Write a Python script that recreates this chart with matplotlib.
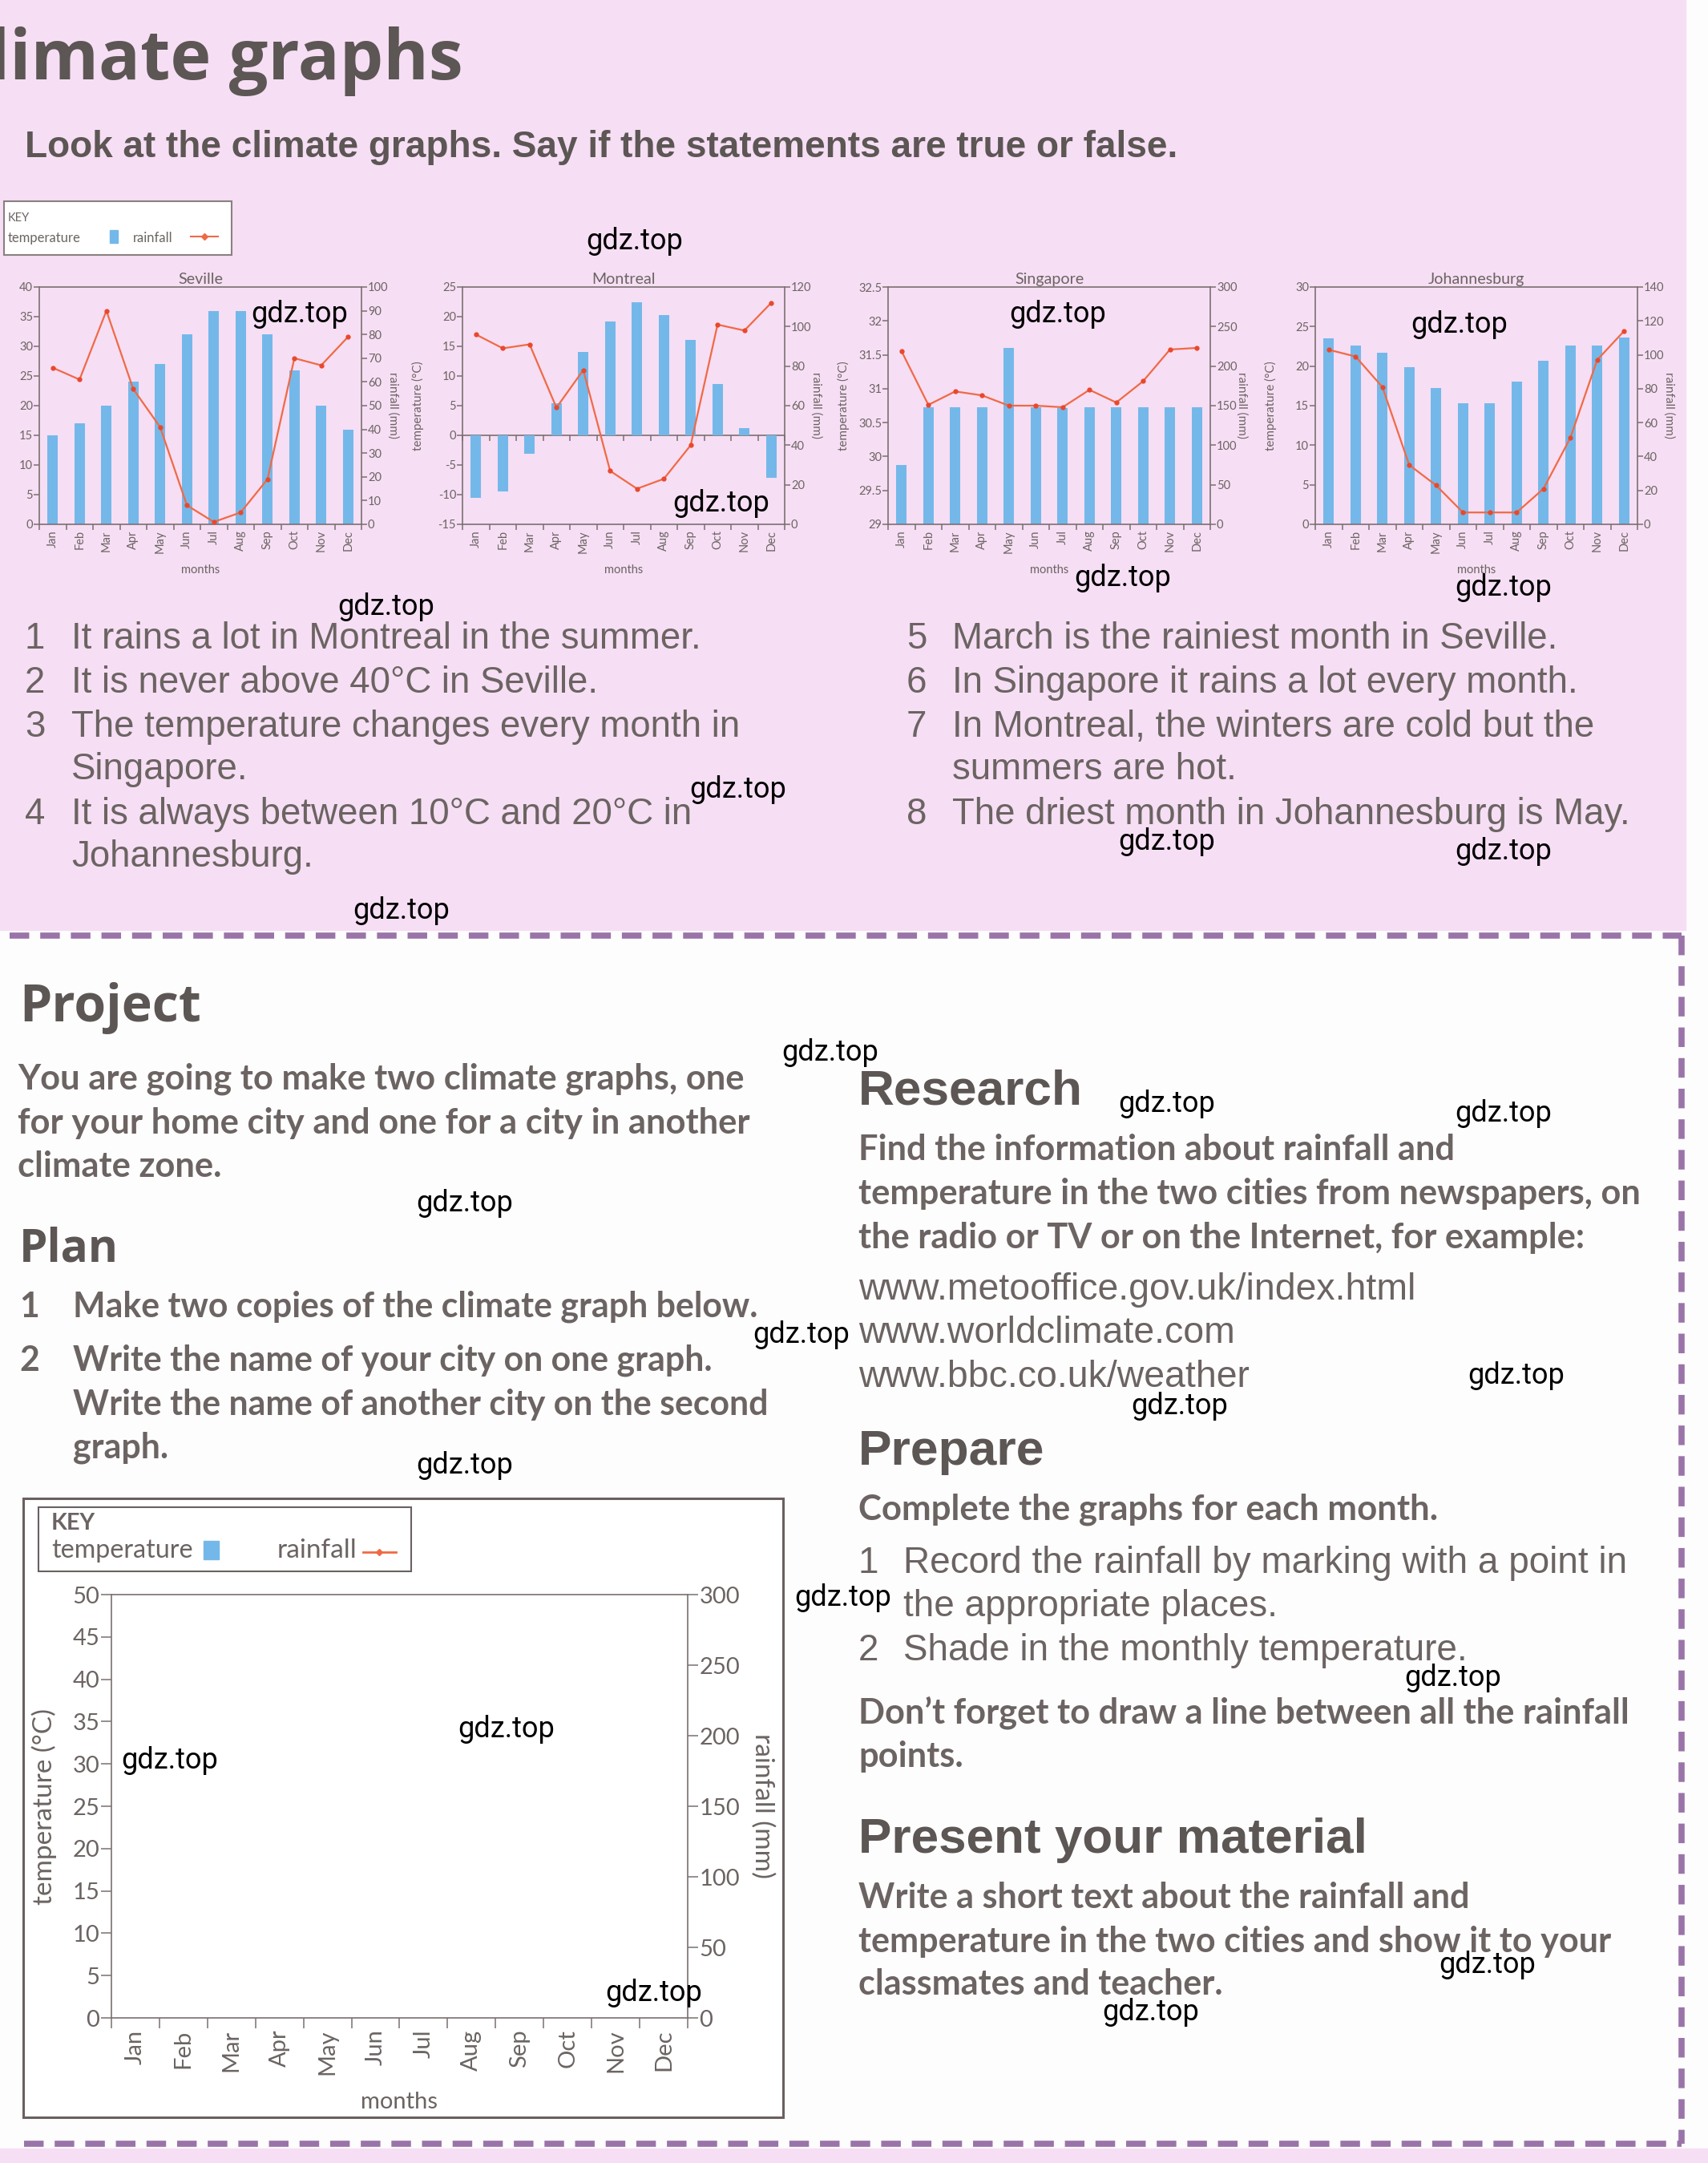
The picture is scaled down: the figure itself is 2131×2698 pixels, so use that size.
"""
Climate graphs page: four small climate charts, statements and the project block
"""
import numpy as np
import matplotlib
matplotlib.use("Agg")
import matplotlib.pyplot as plt
from matplotlib.patches import Rectangle
from matplotlib.lines import Line2D

# ---- data ----
months = ["Jan", "Feb", "Mar", "Apr", "May", "Jun", "Jul", "Aug", "Sep", "Oct", "Nov", "Dec"]

seville_temp = [15, 17, 20, 24, 27, 32, 36, 36, 32, 26, 20, 16]
seville_rain = [66, 61, 90, 57, 41, 8, 1, 5, 19, 70, 67, 79]

montreal_temp = [-10.5, -9.4, -3.1, 5.4, 14, 19.2, 22.4, 20.3, 16.1, 8.6, 1.2, -7.2]
montreal_rain = [96, 89, 91, 59, 78, 27, 18, 23, 40, 101, 98, 112]

singapore_temp = [29.87, 30.73, 30.73, 30.73, 31.6, 30.73, 30.72, 30.73, 30.73, 30.73, 30.73, 30.73]
singapore_rain = [219, 151, 168, 163, 150, 150, 148, 170, 154, 181, 221, 223]

joburg_temp = [23.5, 22.6, 21.7, 19.9, 17.2, 15.3, 15.3, 18.0, 20.7, 22.6, 22.6, 23.6]
joburg_rain = [103, 99, 81, 35, 23, 7, 7, 7, 21, 51, 97, 114]

statements_left = [("1", "It rains a lot in Montreal in the summer."),
                   ("2", "It is never above 40°C in Seville."),
                   ("3", "The temperature changes every month in"),
                   ("", "Singapore."),
                   ("4", "It is always between 10°C and 20°C in"),
                   ("", "Johannesburg.")]
statements_right = [("5", "March is the rainiest month in Seville."),
                    ("6", "In Singapore it rains a lot every month."),
                    ("7", "In Montreal, the winters are cold but the"),
                    ("", "summers are hot."),
                    ("8", "The driest month in Johannesburg is May.")]

project_text = ["You are going to make two climate graphs, one",
                "for your home city and one for a city in another",
                "climate zone."]
plan_items = [("1", "Make two copies of the climate graph below."),
              ("2", "Write the name of your city on one graph."),
              ("", "Write the name of another city on the second"),
              ("", "graph.")]
research_text = ["Find the information about rainfall and",
                 "temperature in the two cities from newspapers, on",
                 "the radio or TV or on the Internet, for example:"]
urls = ["www.metooffice.gov.uk/index.html", "www.worldclimate.com", "www.bbc.co.uk/weather"]
prepare_items = [("1", "Record the rainfall by marking with a point in"),
                 ("", "the appropriate places."),
                 ("2", "Shade in the monthly temperature.")]
reminder_text = ["Don\u2019t forget to draw a line between all the rainfall", "points."]
present_text = ["Write a short text about the rainfall and",
                "temperature in the two cities and show it to your",
                "classmates and teacher."]

watermarks = [(792, 301), (374, 392), (900, 628), (1320, 392), (1401, 721), (1821, 405),
              (1876, 733), (482, 757), (921, 985), (1456, 1050), (1876, 1062), (501, 1136),
              (1036, 1313), (1456, 1377), (1876, 1389), (580, 1501), (1000, 1665),
              (1892, 1716), (1472, 1754), (580, 1828), (1052, 1993), (1813, 2093),
              (632, 2157), (212, 2196), (816, 2486), (1856, 2451), (1436, 2510)]

# ---- styling ----
W, H = 2131, 2698
PINK = "#f6def4"
BLUE = "#74b8ea"
RED = "#f06a45"
AXIS = "#7a7070"
DARK = "#5c5654"
GREY = "#6b6462"
DASH = "#9a74a8"
CHART_FONT = "Lato"

fig = plt.figure(figsize=(W / 100, H / 100), dpi=100)
fig.patch.set_facecolor("#fefdfe")
renderer = fig.canvas.get_renderer()


def fx(x):
    return x / W


def fy(y):
    return 1 - y / H


def put(x, y, s, size=20, **kw):
    kw.setdefault("va", "center")
    return fig.text(fx(x), fy(y), s, fontsize=size, **kw)


def fit_size(s, width, **kw):
    # font size that makes s exactly `width` pixels wide
    t = fig.text(0, 0, s, fontsize=20, **kw)
    w = t.get_window_extent(renderer=renderer).width
    t.remove()
    return 20 * width / w


def fig_rect(x0, y0, x1, y1, **kw):
    # rectangle given by page pixels (top-left, bottom-right)
    r = Rectangle((fx(x0), fy(y1)), fx(x1 - x0), fy(y0) - fy(y1), transform=fig.transFigure, **kw)
    fig.add_artist(r)
    return r


# backgrounds
fig_rect(0, 0, 2103, 1160, color=PINK, zorder=-2)
fig_rect(0, 2680, W, H, color=PINK, zorder=-2)
dash_kw = dict(transform=fig.transFigure, color=DASH, lw=5.5, dashes=(3.2, 1.8), zorder=2)
fig.add_artist(Line2D([fx(12), fx(2098)], [fy(1167), fy(1167)], **dash_kw))
fig.add_artist(Line2D([fx(2098), fx(2098)], [fy(1167), fy(2674)], **dash_kw))
fig.add_artist(Line2D([fx(30), fx(2098)], [fy(2674), fy(2674)], **dash_kw))

# ---- header ----
put(578, 77, "Climate graphs", 62, ha="right", family="Open Sans", weight="bold", color=DARK)
sub = "Look at the climate graphs. Say if the statements are true or false."
put(31, 184, sub, fit_size(sub, 1437, family="Liberation Sans", weight="bold"),
    family="Liberation Sans", weight="bold", color=DARK)

# small key
fig_rect(5, 251, 289, 318, facecolor="white", edgecolor="#8a8080", lw=1.5, zorder=3)
put(10, 272, "KEY", 10.5, family=CHART_FONT, color=GREY, zorder=4)
put(10, 297, "temperature", 12, family=CHART_FONT, color=GREY, zorder=4)
fig_rect(137, 287, 147, 303, color=BLUE, zorder=4)
put(166, 297, "rainfall", 12, family=CHART_FONT, color=GREY, zorder=4)
fig.add_artist(Line2D([fx(238), fx(272)], [fy(295), fy(295)], transform=fig.transFigure,
                      color=RED, lw=1.5, zorder=4))
fig.add_artist(Line2D([fx(255)], [fy(295)], transform=fig.transFigure, color=RED,
                      marker="D", ms=4, zorder=4))


def setup_axes(left, top, width, height, tlim, tstep, rlim, rstep, size, label_size,
               title=None, show_tlabel=True, zero_line=False):
    ax = fig.add_axes([fx(left), fy(top + height), fx(width), height / H])
    ax.set_zorder(1)
    ax.patch.set_visible(False)
    x = np.arange(len(months))
    ax.set_xlim(-0.5, len(months) - 0.5)
    ax.set_ylim(*tlim)
    ax.set_yticks(np.arange(tlim[0], tlim[1] + tstep / 2, tstep))
    ax.yaxis.set_major_formatter(plt.FuncFormatter(lambda v, p: f"{v:g}"))
    ax.set_xticks(np.arange(-0.5, len(months), 1.0))
    ax.set_xticklabels([])
    ax.set_xticks(x, minor=True)
    ax.set_xticklabels(months, minor=True, rotation=90, fontsize=size, family=CHART_FONT, color=GREY)
    ax.tick_params(axis="x", which="minor", length=0, pad=size * 0.5)
    ax.tick_params(axis="x", which="major", direction="out", length=size * 0.45, color=AXIS, width=1.1)
    ax.tick_params(axis="y", direction="out", length=size * 0.45, color=AXIS, width=1.1,
                   labelsize=size, labelcolor=GREY, pad=1)
    for lab in ax.get_yticklabels():
        lab.set_family(CHART_FONT)
    for sp in ax.spines.values():
        sp.set_color(AXIS)
        sp.set_linewidth(1.2)
    if title:
        ax.set_title(title, fontsize=size * 1.35, family=CHART_FONT, color=GREY, pad=size * 0.3)
    ax.set_xlabel("months", fontsize=size, family=CHART_FONT, color=GREY)
    ax.xaxis.set_label_coords(0.5, -0.17)
    if show_tlabel:
        ax.set_ylabel("temperature (°C)", fontsize=label_size, family=CHART_FONT, color=GREY)
        ax.yaxis.set_label_coords(-0.12, 0.5)
    if zero_line:
        frac = (0 - tlim[0]) / (tlim[1] - tlim[0])
        sec = ax.secondary_xaxis(frac)
        sec.set_xticks(np.arange(-0.5, len(months), 1.0))
        sec.set_xticklabels([])
        sec.tick_params(direction="out", length=size * 0.45, color=AXIS, width=1.1)
        sec.spines["bottom"].set_color(AXIS)
        sec.spines["bottom"].set_linewidth(1.2)

    ax2 = ax.twinx()
    ax2.set_zorder(1.1)
    ax2.patch.set_visible(False)
    ax2.set_ylim(*rlim)
    ax2.set_yticks(np.arange(rlim[0], rlim[1] + rstep / 2, rstep))
    ax2.tick_params(axis="y", direction="out", length=size * 0.45, color=AXIS, width=1.1,
                    labelsize=size, labelcolor=GREY, pad=1)
    for lab in ax2.get_yticklabels():
        lab.set_family(CHART_FONT)
    for sp in ax2.spines.values():
        sp.set_visible(False)
    ax2.set_ylabel("rainfall (mm)", rotation=270, fontsize=label_size, family=CHART_FONT, color=GREY)
    ax2.yaxis.set_label_coords(1.115, 0.5)
    return ax, ax2


def climate_chart(left, name, temp, rain, tlim, tstep, rlim, rstep, show_tlabel=True,
                  zero_line=False):
    ax, ax2 = setup_axes(left, 358, 402, 296, tlim, tstep, rlim, rstep, 10.5, 11,
                         title=name, show_tlabel=show_tlabel, zero_line=zero_line)
    x = np.arange(len(months))
    base = max(tlim[0], 0)
    ax.bar(x, np.array(temp) - base, bottom=base, width=0.4, color=BLUE, zorder=2)
    ax2.plot(x, rain, color=RED, lw=1.6, marker="o", ms=3.5, mfc="#e8482c", mec="#e8482c")


climate_chart(49, "Seville", seville_temp, seville_rain, (0, 40), 5, (0, 100), 10, show_tlabel=False)
climate_chart(577, "Montreal", montreal_temp, montreal_rain, (-15, 25), 5, (0, 120), 20, zero_line=True)
climate_chart(1108, "Singapore", singapore_temp, singapore_rain, (29, 32.5), 0.5, (0, 300), 50)
climate_chart(1641, "Johannesburg", joburg_temp, joburg_rain, (0, 30), 5, (0, 140), 20)

# ---- statements ----
st_kw = dict(family="Liberation Sans", color=GREY)
st_size = fit_size(statements_left[0][1], 784, **st_kw)
for (num, line), y in zip(statements_left, [797, 852, 907, 960, 1016, 1069]):
    put(31, y, num, st_size, **st_kw)
    put(89, y, line, st_size, **st_kw)
for (num, line), y in zip(statements_right, [797, 852, 907, 960, 1016]):
    put(1131, y, num, st_size, **st_kw)
    put(1188, y, line, st_size, **st_kw)

# ---- project block ----
semi = dict(family="Lato", weight="bold", color=GREY)
head_round = dict(family="Open Sans", weight="bold", color=DARK)
head = dict(family="Liberation Sans", weight="bold", color=DARK)
plain = dict(family="Liberation Sans", color=GREY)

put(24, 1257, "Project", fit_size("Project", 227, **head_round), **head_round)
size = fit_size(project_text[0], 904, **semi)
for line, y in zip(project_text, [1346, 1401, 1455]):
    put(22, y, line, size, **semi)
put(24, 1558, "Plan", fit_size("Plan", 124, **head_round), **head_round)
size = fit_size(plan_items[0][1], 857, **semi)
for (num, line), y in zip(plan_items, [1630, 1697, 1752, 1806]):
    put(24, y, num, size, **semi)
    put(91, y, line, size, **semi)

put(1071, 1362, "Research", fit_size("Research", 280, **head), **head)
size = fit_size(research_text[1], 977, **semi)
for line, y in zip(research_text, [1434, 1489, 1544]):
    put(1071, y, line, size, **semi)
size = fit_size(urls[0], 692, **plain)
for line, y in zip(urls, [1609, 1663, 1718]):
    put(1071, y, line, size, **plain)

put(1071, 1811, "Prepare", fit_size("Prepare", 232, **head), **head)
put(1071, 1883, "Complete the graphs for each month.",
    fit_size("Complete the graphs for each month.", 723, **semi), **semi)
size = fit_size(prepare_items[0][1], 902, **plain)
for (num, line), y in zip(prepare_items, [1950, 2004, 2059]):
    put(1071, y, num, size, **plain)
    put(1127, y, line, size, **plain)
size = fit_size(reminder_text[0], 960, **semi)
for line, y in zip(reminder_text, [2136, 2191]):
    put(1071, y, line, size, **semi)

put(1071, 2295, "Present your material", fit_size("Present your material", 633, **head), **head)
size = fit_size(present_text[1], 939, **semi)
for line, y in zip(present_text, [2367, 2422, 2475]):
    put(1071, y, line, size, **semi)

# ---- empty graph to copy ----
fig_rect(29, 1869, 977, 2641, facecolor="white", edgecolor="#6a6060", lw=2.2, zorder=0.5)
fig_rect(48, 1880, 513, 1960, facecolor="white", edgecolor="#6a6060", lw=1.5, zorder=0.6)
key_font = dict(family=CHART_FONT, color=GREY, zorder=3)
put(64, 1900, "KEY", fit_size("KEY", 55, family=CHART_FONT, weight="bold"), weight="bold", **key_font)
put(64, 1934, "temperature", fit_size("temperature", 177, family=CHART_FONT), **key_font)
fig_rect(254, 1922, 273, 1945, color=BLUE, zorder=3)
put(346, 1934, "rainfall", fit_size("rainfall", 100, family=CHART_FONT), **key_font)
fig.add_artist(Line2D([fx(453), fx(494)], [fy(1936), fy(1936)], transform=fig.transFigure,
                      color=RED, lw=2, zorder=3))
fig.add_artist(Line2D([fx(473)], [fy(1936)], transform=fig.transFigure, color=RED,
                      marker="D", ms=4, zorder=3))
ax, ax2 = setup_axes(139, 1989, 719, 528, (0, 50), 5, (0, 300), 50, 21, 24)
ax.xaxis.set_label_coords(0.5, -0.175)
ax.yaxis.set_label_coords(-0.095, 0.5)
ax2.yaxis.set_label_coords(1.15, 0.5)

# ---- watermarks ----
for wx, wy in watermarks:
    put(wx, wy, "gdz.top", 26, ha="center", family="Roboto", color="black", zorder=10)

fig.savefig("out.png", dpi=100, facecolor=fig.get_facecolor())
